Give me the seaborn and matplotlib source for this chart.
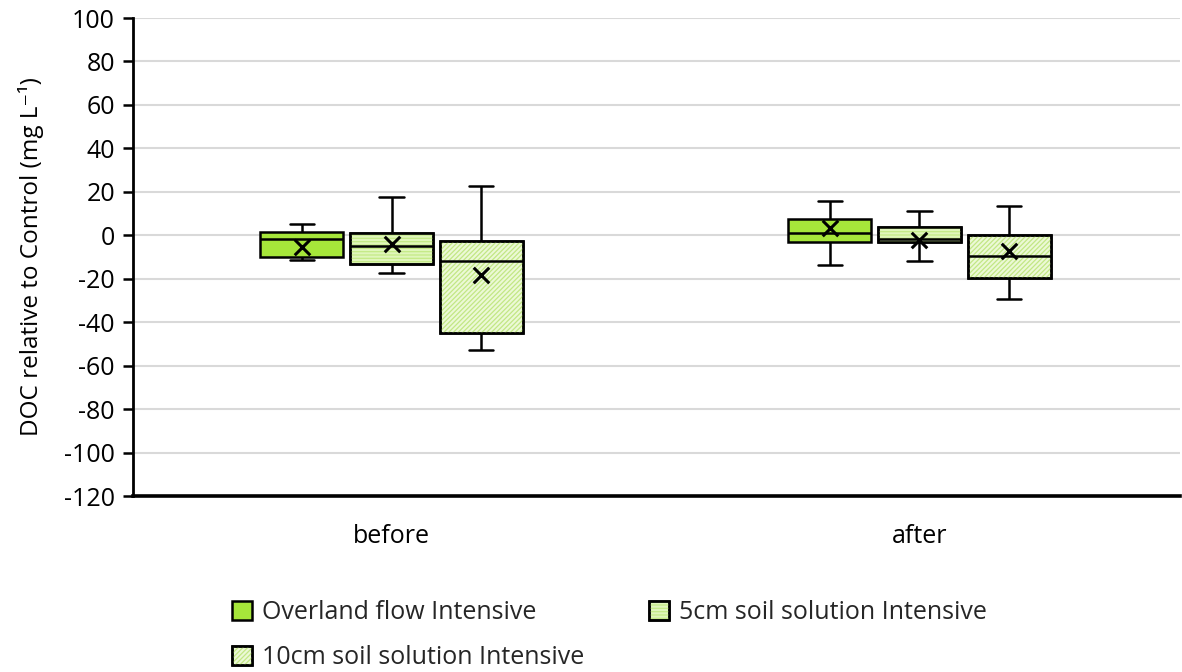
import numpy as np
import pandas as pd
import matplotlib
matplotlib.use("Agg")
import matplotlib.pyplot as plt
import seaborn as sns
from matplotlib.patches import Patch, PathPatch

# ---------------- data ----------------
categories = ["before", "after"]
series = ["Overland flow Intensive", "5cm soil solution Intensive", "10cm soil solution Intensive"]

# five-number summaries per series: [before, after]
overland_low = [-11.5, -13.8]
overland_q1 = [-10.1, -3.0]
overland_med = [-1.9, 1.2]
overland_q3 = [1.4, 7.4]
overland_high = [5.2, 15.9]
overland_mean = [-5.5, 3.2]

cm5_low = [-17.2, -12.0]
cm5_q1 = [-13.2, -3.1]
cm5_med = [-4.8, -1.9]
cm5_q3 = [1.2, 3.7]
cm5_high = [17.8, 11.2]
cm5_mean = [-4.0, -2.2]

cm10_low = [-52.7, -29.2]
cm10_q1 = [-44.8, -19.8]
cm10_med = [-11.7, -9.4]
cm10_q3 = [-2.6, 0.3]
cm10_high = [22.8, 13.5]
cm10_mean = [-18.5, -7.1]

yticks = [100, 80, 60, 40, 20, 0, -20, -40, -60, -80, -100, -120]

# ---------------- styling ----------------
fill_colors = ["#a6e63a", "#e0f6bb", "#ecf9d6"]
hatches = [None, "-----", "///////"]
hatch_colors = [None, "#c4ea86", "#c2e785"]

summaries = {
    series[0]: (overland_low, overland_q1, overland_med, overland_q3, overland_high),
    series[1]: (cm5_low, cm5_q1, cm5_med, cm5_q3, cm5_high),
    series[2]: (cm10_low, cm10_q1, cm10_med, cm10_q3, cm10_high),
}
means = {series[0]: overland_mean, series[1]: cm5_mean, series[2]: cm10_mean}

rows = []
for s in series:
    for ci, c in enumerate(categories):
        for stat in summaries[s]:
            rows.append({"period": c, "series": s, "value": stat[ci]})
df = pd.DataFrame(rows)

sns.set_theme(style="white")
plt.rcParams["font.family"] = ["Open Sans", "DejaVu Sans"]
plt.rcParams["axes.unicode_minus"] = False
plt.rcParams["hatch.linewidth"] = 0.9

fig = plt.figure(figsize=(11.82, 6.72), dpi=100)
ax = fig.add_axes([133 / 1182, 1 - 496 / 672, 1 - 133 / 1182 - 0.002, (496 - 18) / 672])

box_width = 0.51
sns.boxplot(
    data=df, x="period", y="value", hue="series",
    order=categories, hue_order=series,
    palette=fill_colors, saturation=1, width=box_width, gap=0.075,
    whis=(0, 100), linecolor="black", linewidth=1.8,
    capwidths=0.046, legend=False, ax=ax,
)

# hatch overlays on the boxes
palette_rgba = [matplotlib.colors.to_rgba(c) for c in fill_colors]
for p in list(ax.patches):
    fc = p.get_facecolor()
    for hi, rgba in enumerate(palette_rgba):
        if hatches[hi] and np.allclose(fc[:3], rgba[:3], atol=0.01):
            ov = PathPatch(p.get_path(), transform=p.get_transform(), facecolor="none",
                           edgecolor=hatch_colors[hi], hatch=hatches[hi], lw=0,
                           zorder=p.get_zorder() + 0.01)
            ax.add_patch(ov)
            ol = PathPatch(p.get_path(), transform=p.get_transform(), facecolor="none",
                           edgecolor="black", lw=1.8, zorder=p.get_zorder() + 0.02)
            ax.add_patch(ol)

# mean markers at the dodged box positions
n = len(series)
slot = box_width / n
offsets = [-box_width / 2 + slot * (i + 0.5) for i in range(n)]
for si, s in enumerate(series):
    xs = [ci + offsets[si] for ci in range(len(categories))]
    ax.scatter(xs, means[s], marker="x", s=125, color="black", linewidths=2.2, zorder=10)

# axes styling
ax.set_ylim(-120, 100)
ax.set_xlim(-0.49, 1.493)
ax.set_yticks(yticks)
ax.yaxis.grid(True, color="#d9d9d9", linewidth=1.5)
ax.set_axisbelow(True)
for side in ["top", "right"]:
    ax.spines[side].set_visible(False)
ax.spines["left"].set_linewidth(2.0)
ax.spines["left"].set_color("black")
ax.spines["bottom"].set_linewidth(2.6)
ax.spines["bottom"].set_color("black")
ax.tick_params(axis="y", which="major", left=True, length=7, width=1.8, color="black",
               labelsize=18, labelcolor="black", pad=6)
ax.tick_params(axis="x", length=0, labelsize=18, labelcolor="black", pad=20)
ax.set_xlabel("")
ax.set_ylabel("DOC relative to Control (mg L\u207b\u00b9)", fontsize=17.5, color="black", labelpad=14)

# legend (column-major fill: reorder so rows read Overland, 5cm / 10cm)
handles = []
for i in range(n):
    base = Patch(facecolor=fill_colors[i], edgecolor="black", linewidth=1.8)
    if hatches[i]:
        ov = Patch(facecolor="none", edgecolor=hatch_colors[i], hatch=hatches[i], linewidth=0)
        ol = Patch(facecolor="none", edgecolor="black", linewidth=1.8)
        handles.append((base, ov, ol))
    else:
        handles.append(base)
order = [0, 2, 1]
leg = fig.legend([handles[i] for i in order], [series[i] for i in order],
                 loc="upper left", bbox_to_anchor=(222 / 1182, 1 - 590 / 672),
                 ncol=2, frameon=False, fontsize=18, handlelength=0.8, handleheight=0.8,
                 handletextpad=0.4, columnspacing=2.6, labelspacing=0.8, borderaxespad=0)

fig.savefig("out.png", dpi=100)
